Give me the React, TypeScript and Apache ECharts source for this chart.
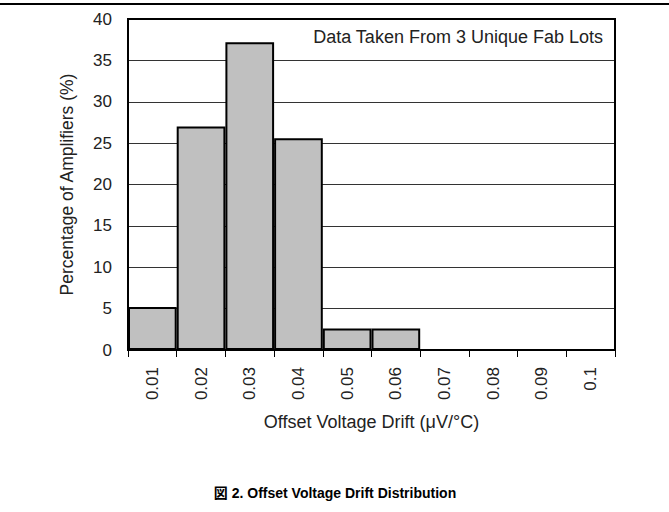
import React, { useEffect, useRef } from "react";
import * as echarts from "echarts";

const categories = ["0.01", "0.02", "0.03", "0.04", "0.05", "0.06", "0.07", "0.08", "0.09", "0.1"];
const percentages = [5.2, 27, 37.2, 25.6, 2.6, 2.6, 0, 0, 0, 0];
const yTicks = { min: 0, max: 40, interval: 5 };
const noteText = "Data Taken From 3 Unique Fab Lots";
const xName = "Offset Voltage Drift (\u03bcV/\u00b0C)";
const yName = "Percentage of Amplifiers (%)";
const caption = "\u56f3 2. Offset Voltage Drift Distribution";

const FONT = "Liberation Sans, Arial, Helvetica, sans-serif";

export default function App() {
  const ref = useRef<HTMLDivElement>(null);
  useEffect(() => {
    if (!ref.current) return;
    const chart = echarts.init(ref.current, null, { renderer: "svg" });
    chart.setOption({
      animation: false,
      backgroundColor: "#ffffff",
      textStyle: { fontFamily: FONT },
      grid: {
        left: 128,
        right: 54,
        top: 19,
        bottom: 162,
        show: true,
        borderColor: "#000",
        borderWidth: 2,
        z: 10,
      },
      xAxis: {
        type: "category",
        data: categories,
        boundaryGap: true,
        axisLine: { show: true, lineStyle: { color: "#000", width: 2 } },
        axisTick: { show: true, alignWithLabel: false, length: 7, lineStyle: { color: "#000", width: 1 } },
        axisLabel: { rotate: 90, margin: 17, color: "#222", fontSize: 17, fontFamily: FONT },
        name: xName,
        nameLocation: "middle",
        nameGap: 63,
        nameTextStyle: { color: "#222", fontSize: 18, fontFamily: FONT },
        splitLine: { show: false },
        z: 10,
      },
      yAxis: {
        type: "value",
        min: yTicks.min,
        max: yTicks.max,
        interval: yTicks.interval,
        axisLine: { show: true, lineStyle: { color: "#000", width: 2 } },
        axisTick: { show: false },
        axisLabel: { margin: 16, color: "#222", fontSize: 17, fontFamily: FONT },
        splitLine: { show: true, lineStyle: { color: "#333", width: 1 } },
        name: yName,
        nameLocation: "middle",
        nameGap: 52,
        nameTextStyle: { color: "#222", fontSize: 17.5, fontFamily: FONT },
      },
      series: [
        {
          type: "bar",
          data: percentages,
          barCategoryGap: "0%",
          itemStyle: { color: "#c0c0c0", borderColor: "#000", borderWidth: 2 },
          z: 5,
        },
      ],
      graphic: [
        {
          type: "line",
          shape: { x1: 0, y1: 4, x2: 669, y2: 4 },
          style: { stroke: "#000", lineWidth: 2 },
        },
        {
          type: "text",
          x: 603,
          y: 37,
          style: {
            text: noteText,
            fontSize: 18,
            fontFamily: FONT,
            fill: "#222",
            textAlign: "right",
            textVerticalAlign: "middle",
          },
          z: 20,
        },
        {
          type: "text",
          x: 335,
          y: 493,
          style: {
            text: caption,
            fontSize: 14,
            fontWeight: "bold",
            fontFamily: "Liberation Sans, Arial, Noto Sans CJK JP, sans-serif",
            fill: "#000",
            textAlign: "center",
            textVerticalAlign: "middle",
          },
        },
      ],
    });
    return () => chart.dispose();
  }, []);
  return (
    <div
      ref={ref}
      style={{ position: "absolute", left: 0, top: 0, width: 669, height: 512 }}
    />
  );
}
